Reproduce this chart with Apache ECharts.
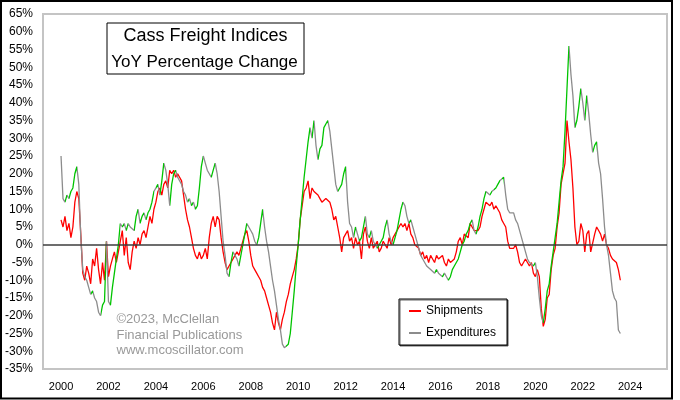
<!DOCTYPE html>
<html>
<head>
<meta charset="utf-8">
<script src="https://cdn.jsdelivr.net/npm/echarts@6/dist/echarts.min.js"></script>
<style>
html,body{margin:0;padding:0;background:#fff;}
#chart{width:680px;height:400px;}
</style>
</head>
<body>
<div id="chart"></div>
<script>
// Monthly YoY % change, Jan 2000 .. Aug 2023
const startYear = 2000;
const yearTicks = [2000, 2002, 2004, 2006, 2008, 2010, 2012, 2014, 2016, 2018, 2020, 2022, 2024];
const seriesNames = ['Shipments', 'Expenditures'];
const titleLines = ['Cass Freight Indices', 'YoY Percentage Change'];
const creditLines = ['\u00A92023, McClellan', 'Financial Publications', 'www.mcoscillator.com'];

const shipments = [
  7, 5, 8, 4, 6, 2, 5, 12, 15, 13, 3, -8,
  -10, -6, -8, -11, -4, -6, -1, -7, -11, -5, -10, 1,
  -9, -6, -4, -2, -5, -2, 1, 4, -3, 2, -5, -7,
  -2, 1, -1, 2, 0, 3, 4, 2, 5, 8, 6, 10,
  12, 15, 16, 14, 17, 18, 16, 21, 20, 21, 19, 20,
  20, 18, 14, 10, 7, 5, 2, -1, -3, -4, -2, -4,
  -3, -1, -4, 2, 6, 8, 5, 8, 7, 2, -2, -5,
  -7, -6, -5, -4, -3, -2, -3, -1, 1, 3, 4, 1,
  -3, -6, -7, -8, -9, -10, -12, -13, -15, -17, -19, -22,
  -24, -19, -22, -24, -21, -19, -16, -14, -11, -9, -7, -4,
  0, 7, 11, 15, 16, 18, 13, 16, 15, 15, 14, 13,
  12, 12, 13, 13, 12, 10, 7, 8, 5, 2, -2, 2,
  3, 4, 1, 2, -1, 2, 0, 1, -4, 3, 5, 1,
  -1, 2, -1, 0, 1, -2, -1, 1, 0, -1, 2, 0,
  2, 3, 3, 5, 6, 5, 6, 4, 6, 3, 2, 0,
  0, -1, -3, -2, -4, -3, -5, -3, -4, -5, -3, -4,
  -4, -3, -5, -6, -4, -5, -5, -4, -2, 1, 2, 0,
  3, 3, 2, 6, 6, 4, 4, 4, 5, 8, 10, 12,
  12, 11, 12, 10, 11, 10, 9, 7, 6, 5, 1, -1,
  -1, -1, 0, -2, -5, -6, -5, -4, -5, -6, -5, -8,
  -9, -7, -9, -18, -23, -21, -15, -14, -7, -3, -1, 5,
  9, 17, 20, 23, 35, 29, 24, 16, 5, 0, 1, 6,
  4, -2, 3, 4, -2, -2, 3, 5, 4, 3, 1, 3,
  0, -1, -3, -4, -4, -5, -7, -10
];

const expenditures = [
  25, 13, 12, 14, 13, 15, 16, 20, 22, 17, 2, -7,
  -9, -10, -12, -14, -13, -15, -16, -19, -20, -17, -16, 1,
  -16, -17, -12, -8, -4, 0, 6, 5, 6, 4, 6, 5,
  5, 4, 8, 10, 6, 8, 9, 7, 9, 10, 12, 15,
  15, 17, 14, 18, 23, 21, 17, 11, 17, 20, 21, 19,
  19, 17, 15, 14, 12, 13, 11, 12, 10, 11, 16, 22,
  25, 23, 21, 20, 19, 21, 23, 20, 15, 8, 1, -3,
  -8, -9, -5, -2, -3, -4, -6, -3, 0, 3, 6, 5,
  4, 3, 1, 0, 2, 6, 10, 5, 1, -2, -6, -10,
  -13, -17, -21, -24, -28, -29, -29, -28, -25, -19, -13, -6,
  0, 7, 13, 19, 24, 29, 33, 30, 35, 28, 24, 27,
  28, 33, 34, 35, 32, 27, 22, 17, 15, 16, 17, 20,
  22, 12, 6, 5, 2, 5, 3, 1, 2, 5, 8, 3,
  2, 4, 1, 0, -1, 0, 1, 2, 5, 7, 3, 1,
  0, 2, 4, 7, 10, 12, 11, 8, 6, 7, 5, 3,
  1, -1, -3, -4, -5, -6, -6, -7, -7, -8, -7, -8,
  -8, -9, -8, -9, -10, -9, -7, -6, -5, -4, -2, 0,
  1, 3, 4, 6, 7, 4, 3, 5, 8, 10, 13, 15,
  15, 14, 15, 15, 16, 17, 18, 18, 19, 14, 10, 9,
  9, 9, 7, 6, 6, 2, 0, -2, -4, -5, -5, -6,
  -5, -9, -15, -20, -22, -18, -13, -11, -6, -2, 2, 6,
  12, 18, 22, 32, 44, 56, 48, 42, 33, 35, 39, 44,
  40, 35, 42, 37, 31, 26, 28, 29, 23, 20, 13, 5,
  0, -3, -8, -13, -15, -16, -24, -25
];

const RED = '#ff0000', GREEN = '#00c400', GRAY = '#8c8c8c';
const timeOf = i => startYear + i / 12;
const toPoints = arr => arr.map((v, i) => [timeOf(i), v]);

// colour rising segments of the expenditures line green, falling ones gray
const pieces = [];
for (let i = 1; i < expenditures.length; i++) {
  if (expenditures[i] > expenditures[i - 1]) {
    pieces.push({ gte: timeOf(i - 1), lte: timeOf(i), color: GREEN });
  }
}

const FONT = '"Liberation Sans", Arial, sans-serif';
const chart = echarts.init(document.getElementById('chart'), null, { renderer: 'canvas' });

chart.setOption({
  backgroundColor: '#ffffff',
  animation: false,
  grid: {
    left: 43, top: 14, right: 13, bottom: 31,
    show: true, borderColor: '#c4c4c4', borderWidth: 2, backgroundColor: '#ffffff'
  },
  xAxis: {
    type: 'value',
    min: 1999.24, max: 2025.55,
    axisLine: { show: false },
    axisTick: { show: false },
    splitLine: { show: false },
    axisLabel: {
      customValues: yearTicks,
      formatter: v => String(Math.round(v)),
      color: '#000', fontFamily: FONT, fontSize: 11, margin: 12
    }
  },
  yAxis: {
    type: 'value',
    min: -35, max: 65, interval: 5,
    axisLine: { show: false },
    axisTick: { show: false },
    splitLine: { show: false },
    axisLabel: { formatter: '{value}%', color: '#000', fontFamily: FONT, fontSize: 12, margin: 10 }
  },
  legend: {
    orient: 'vertical',
    left: 399, top: 299,
    padding: [5, 11, 5, 10],
    itemGap: 8,
    itemWidth: 12, itemHeight: 2,
    icon: 'rect',
    borderColor: '#000', borderWidth: 1,
    backgroundColor: '#fff',
    shadowColor: 'rgba(0,0,0,0.6)', shadowOffsetX: 1, shadowOffsetY: 1, shadowBlur: 0,
    textStyle: { color: '#000', fontFamily: FONT, fontSize: 12, lineHeight: 14 },
    data: [
      { name: seriesNames[0], itemStyle: { color: RED } },
      { name: seriesNames[1], itemStyle: { color: GRAY } }
    ]
  },
  visualMap: {
    type: 'piecewise', show: false,
    seriesIndex: 1, dimension: 0,
    pieces: pieces,
    outOfRange: { color: GRAY }
  },
  graphic: [
    { type: 'rect', shape: { x: 107, y: 23, width: 197, height: 51 },
      style: { fill: '#fff', stroke: '#000', lineWidth: 1 }, z: 10 },
    { type: 'text', x: 205.5, y: 36, z: 11,
      style: { text: titleLines[0], font: '18px ' + FONT, fill: '#000', textAlign: 'center', textVerticalAlign: 'middle' } },
    { type: 'text', x: 204.5, y: 62, z: 11,
      style: { text: titleLines[1], font: '17px ' + FONT, fill: '#000', textAlign: 'center', textVerticalAlign: 'middle' } },
    { type: 'text', x: 116.5, y: 319.5, z: 11,
      style: { text: creditLines[0], font: '13px ' + FONT, fill: '#999', textVerticalAlign: 'middle' } },
    { type: 'text', x: 116.5, y: 335, z: 11,
      style: { text: creditLines[1], font: '13px ' + FONT, fill: '#999', textVerticalAlign: 'middle' } },
    { type: 'text', x: 116.5, y: 350.5, z: 11,
      style: { text: creditLines[2], font: '13px ' + FONT, fill: '#999', textVerticalAlign: 'middle' } },
    { type: 'rect', shape: { x: 1, y: 1, width: 671, height: 397.5 },
      style: { fill: 'none', stroke: '#000', lineWidth: 2 }, z: 20, silent: true }
  ],
  series: [
    {
      name: seriesNames[0], type: 'line', data: toPoints(shipments),
      showSymbol: false, symbol: 'none', color: RED,
      lineStyle: { color: RED, width: 1.3 },
      z: 2,
      markLine: {
        silent: true, symbol: 'none', label: { show: false },
        lineStyle: { color: '#3c3c3c', width: 1.5, type: 'solid' },
        data: [{ yAxis: 0 }]
      }
    },
    {
      name: seriesNames[1], type: 'line', data: toPoints(expenditures),
      showSymbol: false, symbol: 'none', color: GRAY,
      lineStyle: { width: 1.3 },
      z: 3
    }
  ]
});
</script>
</body>
</html>
